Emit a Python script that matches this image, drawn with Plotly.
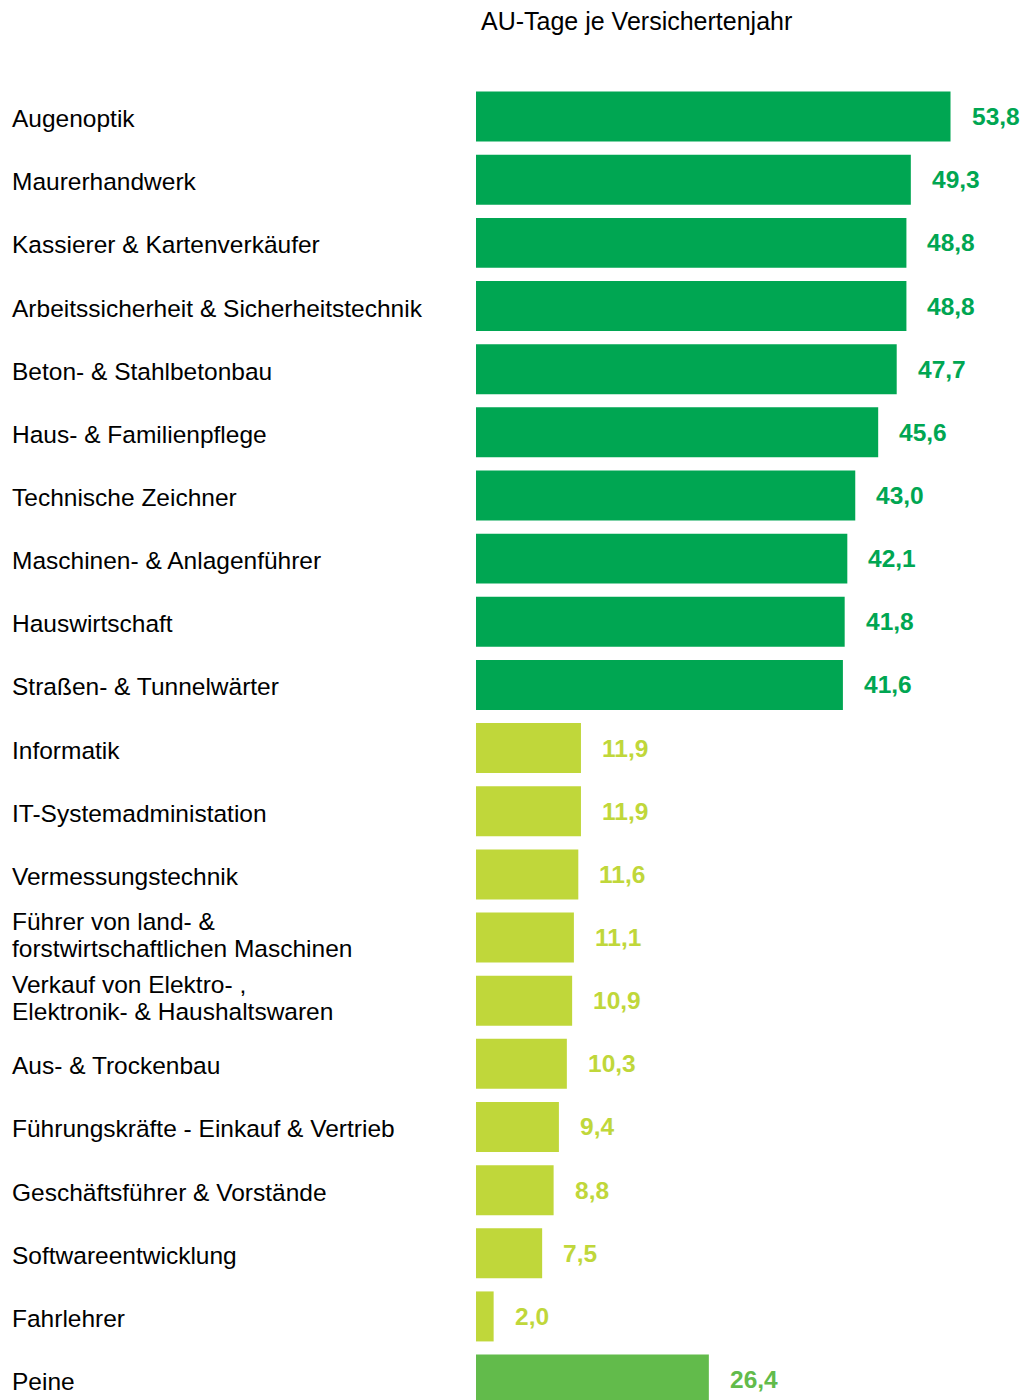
import plotly.graph_objects as go

categories = [
    "Augenoptik",
    "Maurerhandwerk",
    "Kassierer & Kartenverkäufer",
    "Arbeitssicherheit & Sicherheitstechnik",
    "Beton- & Stahlbetonbau",
    "Haus- & Familienpflege",
    "Technische Zeichner",
    "Maschinen- & Anlagenführer",
    "Hauswirtschaft",
    "Straßen- & Tunnelwärter",
    "Informatik",
    "IT-Systemadministation",
    "Vermessungstechnik",
    "Führer von land- &\nforstwirtschaftlichen Maschinen",
    "Verkauf von Elektro- ,\nElektronik- & Haushaltswaren",
    "Aus- & Trockenbau",
    "Führungskräfte - Einkauf & Vertrieb",
    "Geschäftsführer & Vorstände",
    "Softwareentwicklung",
    "Fahrlehrer",
    "Peine",
]
values = [53.8, 49.3, 48.8, 48.8, 47.7, 45.6, 43.0, 42.1, 41.8, 41.6,
          11.9, 11.9, 11.6, 11.1, 10.9, 10.3, 9.4, 8.8, 7.5, 2.0, 26.4]
groups = ["high"] * 10 + ["low"] * 10 + ["region"]

colors_map = {"high": "#00A652", "low": "#C0D73A", "region": "#62BB4B"}
bar_colors = [colors_map[g] for g in groups]

W, H = 1024, 1400
L, T = 476, 85
plot_w = W - L
plot_h = H - T
px_per_unit = 8.82
pitch = 63.15

ypos = list(range(len(categories)))
y_bottom = -0.5 + plot_h / pitch

fig = go.Figure(go.Bar(
    x=values, y=ypos, orientation="h",
    marker=dict(color=bar_colors, line=dict(width=0)),
    width=50 / pitch,
    hoverinfo="skip",
))

FONT = "Liberation Sans, Arial"
annotations = []
for i, (cat, v, c) in enumerate(zip(categories, values, bar_colors)):
    lines = cat.split("\n")
    shifts = [-2] if len(lines) == 1 else [16, -11]
    for line, ys in zip(lines, shifts):
        annotations.append(dict(
            x=0, xref="paper", y=i, yref="y", xshift=-(L - 10), yshift=ys,
            text=line, xanchor="left", yanchor="middle", align="left",
            showarrow=False,
            font=dict(family=FONT, size=24.5, color="#000000"),
        ))
    annotations.append(dict(
        x=v, xref="x", y=i, yref="y", xshift=19,
        text="<b>" + f"{v:.1f}".replace(".", ",") + "</b>",
        xanchor="left", yanchor="middle", showarrow=False,
        font=dict(family=FONT, size=24.5, color=c),
    ))

annotations.append(dict(
    x=(636.5 - L) / plot_w, xref="paper", y=1, yref="paper", yshift=(T - 21),
    text="AU-Tage je Versichertenjahr", showarrow=False,
    xanchor="center", yanchor="middle",
    font=dict(family=FONT, size=25, color="#000000"),
))

fig.update_layout(
    width=W, height=H,
    margin=dict(l=L, r=0, t=T, b=0, pad=0),
    paper_bgcolor="white", plot_bgcolor="white",
    showlegend=False,
    xaxis=dict(range=[0, plot_w / px_per_unit], visible=False, fixedrange=True),
    yaxis=dict(range=[y_bottom, -0.5], visible=False, fixedrange=True),
    annotations=annotations,
)

fig.write_html(
    "out.html",
    config={"displayModeBar": False},
    post_script="document.body.style.margin='0px';",
)
